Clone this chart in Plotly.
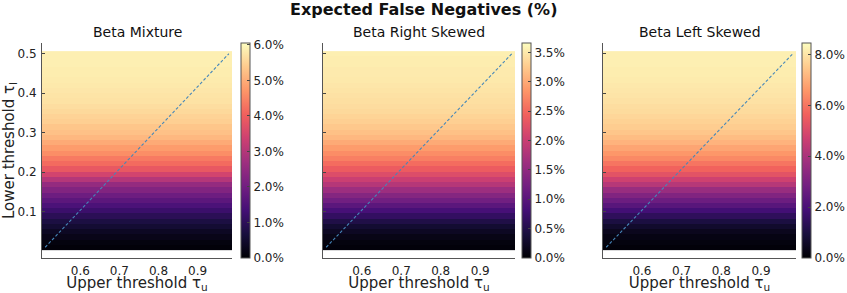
import numpy as np
import plotly.graph_objects as go

# ---- data ----
tau_u = np.round(np.linspace(0.51, 0.98, 30), 4)   # upper threshold grid
tau_l = np.round(np.linspace(0.01, 0.50, 38), 4)   # lower threshold grid

titles = ["Beta Mixture", "Beta Right Skewed", "Beta Left Skewed"]

# expected false negatives (%) per lower-threshold row
fn_mixture = [0.06, 0.12, 0.24, 0.36, 0.55, 0.73, 0.97, 1.21, 1.45, 1.69,
              1.94, 2.24, 2.54, 3.00, 3.45, 3.87, 4.17, 4.36, 4.60, 4.78,
              4.96, 5.14, 5.26, 5.32, 5.45, 5.50, 5.57, 5.63, 5.69, 5.72,
              5.75, 5.78, 5.81, 5.84, 5.84, 5.87, 5.87, 5.87]
fn_right = [0.04, 0.07, 0.13, 0.22, 0.33, 0.48, 0.66, 0.84, 1.02, 1.21,
            1.39, 1.61, 1.83, 2.01, 2.20, 2.38, 2.53, 2.67, 2.78, 2.89,
            3.00, 3.11, 3.18, 3.24, 3.29, 3.33, 3.37, 3.40, 3.42, 3.44,
            3.46, 3.48, 3.50, 3.51, 3.51, 3.53, 3.53, 3.55]
fn_left = [0.08, 0.17, 0.25, 0.42, 0.68, 1.01, 1.44, 1.86, 2.28, 2.70,
           3.13, 3.63, 4.23, 4.73, 5.24, 5.66, 6.00, 6.34, 6.59, 6.84,
           7.10, 7.27, 7.44, 7.56, 7.65, 7.73, 7.82, 7.86, 7.94, 7.99,
           8.03, 8.07, 8.11, 8.15, 8.15, 8.20, 8.20, 8.20]
series = [fn_mixture, fn_right, fn_left]

cbar_max = [6.05, 3.66, 8.45]
cbar_ticks = [[0, 1, 2, 3, 4, 5, 6],
              [0, 0.5, 1, 1.5, 2, 2.5, 3, 3.5],
              [0, 2, 4, 6, 8]]
x_ticks = [0.6, 0.7, 0.8, 0.9]
y_ticks = [0.1, 0.2, 0.3, 0.4, 0.5]

# ---- layout geometry (pixels) ----
W, H = 847, 293
ML, MR, MT, MB = 42, 36, 43, 35
PW = W - ML - MR
PH = H - MT - MB
plot_x = [(42, 232), (323, 515), (603, 796)]
cbar_x = [241, 522, 802]


def fx(px):
    return (px - ML) / PW


FONT = "DejaVu Sans"
fig = go.Figure()
layout = dict(
    width=W, height=H, margin=dict(l=ML, r=MR, t=MT, b=MB, autoexpand=False),
    paper_bgcolor="white", plot_bgcolor="white",
    font=dict(family=FONT, size=12, color="#222"),
    showlegend=False,
)

for i in range(3):
    xa = "x" if i == 0 else f"x{i+1}"
    ya = "y" if i == 0 else f"y{i+1}"
    z = [[v] * len(tau_u) for v in series[i]]
    fig.add_trace(go.Heatmap(
        x=tau_u, y=tau_l, z=z, xaxis=xa, yaxis=ya,
        colorscale="Magma", zmin=0, zmax=cbar_max[i],
        colorbar=dict(
            x=fx(cbar_x[i]), xanchor="left", xpad=0,
            y=0, yanchor="bottom", ypad=0,
            len=1, lenmode="fraction",
            thickness=9, thicknessmode="pixels",
            outlinewidth=1, outlinecolor="#555",
            tickmode="array", tickvals=cbar_ticks[i],
            ticktext=[f"{v:.1f}%" for v in cbar_ticks[i]],
            ticks="inside", ticklen=3, tickcolor="#444",
            tickfont=dict(family=FONT, size=12, color="#222"),
        ),
    ))
    fig.add_trace(go.Scatter(
        x=[tau_u[0], tau_u[-1]], y=[tau_l[0], tau_l[-1]],
        xaxis=xa, yaxis=ya, mode="lines",
        line=dict(color="rgba(70,135,185,1)", width=1.1, dash="3px,2px"),
        hoverinfo="skip",
    ))
    xkey = "xaxis" if i == 0 else f"xaxis{i+1}"
    ykey = "yaxis" if i == 0 else f"yaxis{i+1}"
    layout[xkey] = dict(
        domain=[fx(plot_x[i][0]), fx(plot_x[i][1])], anchor=ya,
        tickvals=x_ticks, ticks="outside", ticklen=2,
        tickcolor="rgba(0,0,0,0)",
        showline=True, linecolor="#555", linewidth=1, showgrid=False,
        zeroline=False, tickfont=dict(size=12),
        automargin=False,
        title=dict(text="Upper threshold τ<sub>u</sub>",
                   font=dict(size=15), standoff=1),
    )
    layout[ykey] = dict(
        domain=[0, 1], anchor=xa,
        tickvals=y_ticks, ticks="inside", ticklen=3, tickcolor="#444",
        showline=True, linecolor="#555", linewidth=1, showgrid=False,
        zeroline=False, tickfont=dict(size=12), showticklabels=(i == 0),
        ticklabelstandoff=2, automargin=False,
    )
    if i == 0:
        layout[ykey]["title"] = dict(text="Lower threshold τ<sub>l</sub>",
                                     font=dict(size=15), standoff=2)

annotations = [dict(text="<b>Expected False Negatives (%)</b>",
                    x=(W / 2 - ML) / PW, y=1 + (MT - 9.5) / PH,
                    xref="paper", yref="paper", showarrow=False,
                    font=dict(size=16, family=FONT, color="#111"),
                    xanchor="center", yanchor="middle")]
for i in range(3):
    cx = fx((plot_x[i][0] + plot_x[i][1]) / 2)
    annotations.append(dict(text=titles[i], x=cx,
                            y=1 + (MT - 32) / PH,
                            xref="paper", yref="paper", showarrow=False,
                            font=dict(size=14, family=FONT, color="#111"),
                            xanchor="center", yanchor="middle"))
layout["annotations"] = annotations
fig.update_layout(**layout)
fig.write_html("out.html",
               config={"displayModeBar": False},
               post_script="document.body.style.margin='0';"
                           "document.body.style.overflow='hidden';")
